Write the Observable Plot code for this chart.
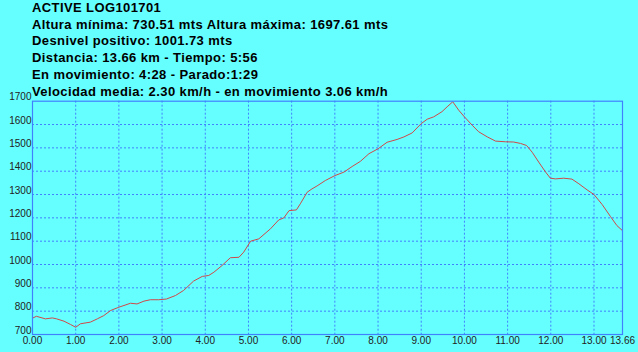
<!DOCTYPE html>
<html>
<head>
<meta charset="utf-8">
<script src="https://cdn.jsdelivr.net/npm/d3@7"></script>
<script src="https://cdn.jsdelivr.net/npm/@observablehq/plot@0.6"></script>
<style>
  html, body { margin: 0; padding: 0; background: #66ffff; width: 638px; height: 352px; overflow: hidden; }
  #title { height: 92px; padding: 0 0 0 32px; font: bold 13px "Liberation Sans", Arial, sans-serif; letter-spacing: 0.4px; line-height: 16.7px; color: #000; white-space: nowrap; box-sizing: border-box; overflow: visible; }
  #chart { position: relative; }
</style>
</head>
<body>
<div id="title"></div>
<div id="chart"></div>
<script>
const titleLines = [
  "ACTIVE LOG101701",
  "Altura mínima: 730.51 mts Altura máxima: 1697.61 mts",
  "Desnivel positivo: 1001.73 mts",
  "Distancia: 13.66 km - Tiempo: 5:56",
  "En movimiento: 4:28 - Parado:1:29",
  "Velocidad media: 2.30 km/h - en movimiento 3.06 km/h"
];

const distanceKm = [
  0.00, 0.09, 0.30, 0.46, 0.56, 0.73, 0.88, 1.00, 1.11, 1.34, 1.50, 1.65, 1.81, 2.00,
  2.27, 2.42, 2.58, 2.73, 2.92, 3.10, 3.31, 3.50, 3.73, 3.93, 4.08, 4.20, 4.39, 4.58,
  4.78, 4.89, 5.05, 5.24, 5.51, 5.70, 5.82, 5.94, 6.11, 6.20, 6.36, 6.47, 6.59, 6.78,
  7.00, 7.21, 7.40, 7.59, 7.79, 8.00, 8.21, 8.44, 8.60, 8.79, 9.00, 9.14, 9.29, 9.48,
  9.60, 9.73, 9.87, 10.00, 10.18, 10.33, 10.53, 10.72, 10.95, 11.14, 11.30, 11.44,
  11.57, 11.72, 11.88, 11.99, 12.11, 12.30, 12.49, 12.65, 12.84, 13.00, 13.19, 13.38,
  13.53, 13.66
];
const altitudeM = [
  770, 778, 767, 771, 767, 757, 743, 731, 746, 753, 767, 781, 803, 817,
  834, 831, 843, 849, 849, 852, 867, 889, 929, 949, 953, 967, 996, 1029,
  1031, 1053, 1100, 1110, 1153, 1191, 1200, 1231, 1234, 1260, 1310, 1324, 1337, 1360,
  1381, 1396, 1420, 1442, 1475, 1496, 1524, 1536, 1547, 1564, 1604, 1623, 1633, 1655,
  1676, 1697.61, 1661, 1633, 1597, 1569, 1547, 1529, 1526, 1525, 1519, 1510,
  1481, 1439, 1396, 1370, 1367, 1370, 1366, 1346, 1320, 1300, 1257, 1206,
  1167, 1145
];
const xTicks = [0, 1, 2, 3, 4, 5, 6, 7, 8, 9, 10, 11, 12, 13, 13.66];
const yTicks = [700, 800, 900, 1000, 1100, 1200, 1300, 1400, 1500, 1600, 1700];
const xGrid = [1, 2, 3, 4, 5, 6, 7, 8, 9, 10, 11, 12, 13];
const yGrid = [800, 900, 1000, 1100, 1200, 1300, 1400, 1500, 1600];

document.getElementById("title").innerHTML = titleLines.map(t => `<div>${t}</div>`).join("");

const profile = distanceKm.map((d, i) => ({km: d, alt: altitudeM[i]}));
const blue = "#4080ff";

const chart = Plot.plot({
  width: 638,
  height: 260,
  marginTop: 8.7,
  marginBottom: 18,
  marginLeft: 32,
  marginRight: 16,
  style: {background: "transparent", fontFamily: "'Liberation Sans', Arial, sans-serif", fontSize: "10px", color: "#222"},
  x: {domain: [0, 13.66]},
  y: {domain: [700, 1700]},
  marks: [
    Plot.gridX(xGrid, {stroke: blue, strokeOpacity: 1, strokeDasharray: "2,2"}),
    Plot.gridY(yGrid, {stroke: blue, strokeOpacity: 1, strokeDasharray: "2,2"}),
    Plot.line(profile, {x: "km", y: "alt", stroke: "#d04848", strokeWidth: 1}),
    Plot.frame({stroke: blue, strokeWidth: 1.2}),
    Plot.axisX(xTicks, {tickSize: 0, tickPadding: 2, tickFormat: d => d.toFixed(2), label: null}),
    Plot.axisY(yTicks, {tickSize: 0, tickPadding: 1, dy: -4, tickFormat: d => String(d), label: null})
  ]
});
document.getElementById("chart").appendChild(chart);
</script>
</body>
</html>
